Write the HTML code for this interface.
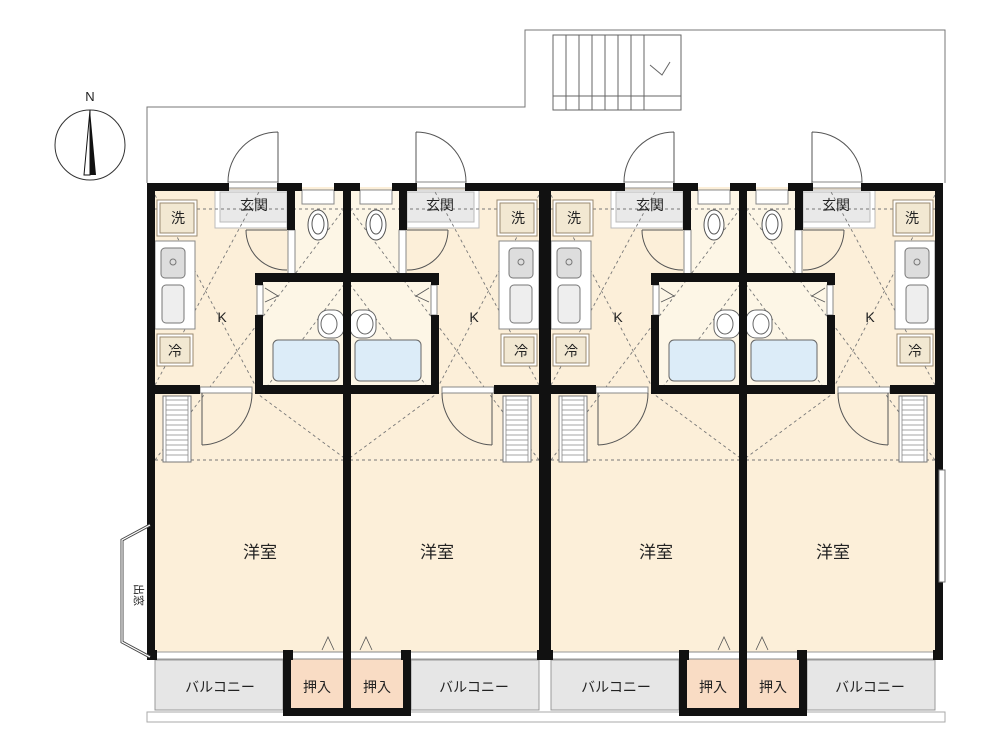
<!DOCTYPE html><html><head><meta charset="utf-8"><style>
body{margin:0;background:#fff}svg{display:block}
text{font-family:"Liberation Sans","Noto Sans CJK JP",sans-serif;fill:#222}
</style></head><body>
<svg width="1000" height="750" viewBox="0 0 1000 750">
<defs>
<g id="u">
 <rect x="151" y="187" width="196" height="470" fill="#fcefd9"/>
 <rect x="295" y="190" width="50" height="85" fill="#fdf6e6"/>
 <rect x="263" y="281" width="82" height="104" fill="#fdf6e6"/>
 <rect x="215" y="190" width="72" height="38" fill="#fff" stroke="#bbb"/>
 <rect x="220" y="192" width="67" height="30" fill="#e9e9e9" stroke="#bbb"/>
 <path d="M278 190 V132 M278 132 A50 50 0 0 0 228 182" fill="none" stroke="#555"/>
 <rect x="228" y="182" width="50" height="6" fill="#fff" stroke="#555" stroke-width=".7"/>
 <g stroke="#777" stroke-dasharray="3 3" fill="none" stroke-width=".9">
  <line x1="155" y1="195" x2="255" y2="385"/><line x1="155" y1="385" x2="260" y2="190"/>
  <line x1="255" y1="392" x2="347" y2="460"/><line x1="155" y1="460" x2="347" y2="205"/>
  <line x1="155" y1="460" x2="347" y2="460"/><line x1="155" y1="209" x2="347" y2="209"/>
  <line x1="263" y1="392" x2="345" y2="283"/>
 </g>
 <path d="M246 230 H287 M246 230 A40 40 0 0 0 287 270" fill="none" stroke="#555"/>
 <rect x="302" y="190" width="32" height="14" fill="#fff" stroke="#888"/>
 <ellipse cx="318" cy="225" rx="10" ry="15" fill="#fff" stroke="#555"/>
 <ellipse cx="318" cy="224" rx="6" ry="10" fill="none" stroke="#555"/>
 <rect x="288" y="230" width="7" height="45" fill="#fff" stroke="#888"/>
 <rect x="318" y="310" width="26" height="28" rx="10" fill="#fff" stroke="#666"/>
 <ellipse cx="329" cy="324" rx="8" ry="10" fill="none" stroke="#666"/>
 <rect x="273" y="340" width="66" height="41" rx="5" fill="#dcecf8" stroke="#666"/>
 <path d="M265 288 L278 296 L265 302" fill="none" stroke="#555" stroke-width=".8"/>
 <rect x="257" y="285" width="6" height="30" fill="#fff" stroke="#888"/>
 <rect x="157" y="200" width="40" height="36" fill="#fff" stroke="#9a8a70"/>
 <rect x="160" y="203" width="34" height="30" fill="#f2e8d2" stroke="#9a8a70"/>
 <rect x="155" y="241" width="40" height="88" fill="#fff" stroke="#888"/>
 <rect x="161" y="248" width="24" height="30" rx="4" fill="#ddd" stroke="#777"/>
 <circle cx="173" cy="262" r="3" fill="none" stroke="#777"/>
 <rect x="162" y="285" width="22" height="38" rx="4" fill="#eee" stroke="#777"/>
 <rect x="157" y="334" width="36" height="32" fill="#fff" stroke="#9a8a70"/>
 <rect x="160" y="337" width="30" height="26" fill="#f2e8d2" stroke="#9a8a70"/>
 <rect x="200" y="387" width="52" height="6" fill="#fff" stroke="#888"/>
 <path d="M202 393 V445 M202 445 A52 52 0 0 0 252 393" fill="none" stroke="#555"/>
 <rect x="163" y="396" width="28" height="66" fill="#fff" stroke="#777"/>
 <g stroke="#888" stroke-width=".8"><path d="M166 400H188M166 405H188M166 410H188M166 415H188M166 420H188M166 425H188M166 430H188M166 435H188M166 440H188M166 445H188M166 450H188M166 455H188M166 396V462M188 396V462"/></g>
 <rect x="287" y="657" width="60" height="58" fill="#f9dcc4"/>
 <path d="M322 650 L328 637 L334 650" fill="none" stroke="#555" stroke-width=".8"/>
 <rect x="290" y="652" width="54" height="7" fill="#fff" stroke="#888"/>
 <rect x="155" y="660" width="128" height="50" fill="#e6e6e6" stroke="#999"/>
 <rect x="155" y="652" width="132" height="7" fill="#fff" stroke="#999"/>
 <g fill="#111">
  <rect x="147" y="183" width="82" height="8"/><rect x="277" y="183" width="25" height="8"/><rect x="334" y="183" width="17" height="8"/>
  <rect x="147" y="183" width="8" height="474"/>
  <rect x="287" y="183" width="8" height="47"/>
  <rect x="255" y="273" width="92" height="9"/><rect x="255" y="273" width="8" height="12"/><rect x="255" y="315" width="8" height="78"/>
  <rect x="255" y="385" width="92" height="9"/>
  <rect x="147" y="385" width="53" height="9"/>
  <rect x="343" y="183" width="8" height="532"/>
  <rect x="147" y="650" width="10" height="10"/>
  <rect x="283" y="650" width="8" height="66"/><rect x="283" y="708" width="66" height="8"/>
  <rect x="283" y="650" width="10" height="10"/>
 </g>
</g>
</defs>
<path d="M147 183 V107 H525 V30 H945 V183" fill="none" stroke="#777"/>
<rect x="147" y="712" width="798" height="10" fill="none" stroke="#aaa"/>
<rect x="553" y="35" width="128" height="75" fill="#fff" stroke="#666"/>
<g stroke="#666"><path d="M553 96H681M566 35V110M579 35V110M592 35V110M605 35V110M618 35V110M631 35V110M644 35V110"/>
<path d="M650 65 L662 75 L670 62" fill="none"/></g>
<circle cx="90" cy="145" r="35" fill="#fff" stroke="#333"/>
<path d="M90 110 L96 175 L84 175 Z" fill="#111"/><path d="M90 110 L90 175 L84 175Z" fill="#fff" stroke="#111"/>
<text x="90" y="101" font-size="13" text-anchor="middle">N</text>
<use href="#u"/>
<use href="#u" transform="translate(694,0) scale(-1,1)"/>
<use href="#u" transform="translate(396,0)"/>
<use href="#u" transform="translate(1090,0) scale(-1,1)"/>
<path d="M150 525 L122 540 V642 L150 657" fill="none" stroke="#444" stroke-width="3"/>
<path d="M150 525 L122 540 V642 L150 657" fill="none" stroke="#fff" stroke-width="1.2"/>
<text x="135" y="595" font-size="11" text-anchor="middle" transform="rotate(90 135 595)">出窓</text>
<rect x="939" y="470" width="6" height="112" fill="#fff" stroke="#777"/>
<g font-size="14" text-anchor="middle">
<text x="178" y="223">洗</text><text x="175" y="356">冷</text><text x="254" y="210">玄関</text>
<text x="518" y="223">洗</text><text x="521" y="356">冷</text><text x="440" y="210">玄関</text>
<text x="574" y="223">洗</text><text x="571" y="356">冷</text><text x="650" y="210">玄関</text>
<text x="912" y="223">洗</text><text x="915" y="356">冷</text><text x="836" y="210">玄関</text>
<text x="222" y="322">K</text><text x="474" y="322">K</text><text x="618" y="322">K</text><text x="870" y="322">K</text>
<text x="317" y="692">押入</text><text x="377" y="692">押入</text><text x="713" y="692">押入</text><text x="773" y="692">押入</text>
<text x="220" y="692">バルコニー</text><text x="474" y="692">バルコニー</text><text x="616" y="692">バルコニー</text><text x="870" y="692">バルコニー</text>
</g>
<g font-size="17" text-anchor="middle">
<text x="260" y="558">洋室</text><text x="437" y="558">洋室</text><text x="656" y="558">洋室</text><text x="833" y="558">洋室</text>
</g>
</svg></body></html>
